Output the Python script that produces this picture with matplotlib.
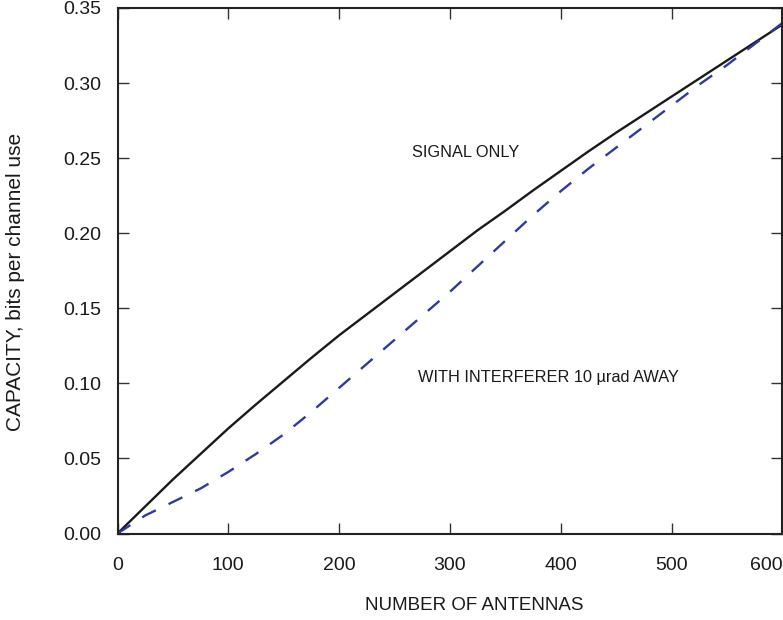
import matplotlib
matplotlib.use("Agg")
import matplotlib.pyplot as plt

plt.rcParams['font.family'] = ['Liberation Sans', 'DejaVu Sans']

antennas = [0, 25, 50, 75, 100, 125, 150, 175, 200, 225, 250, 275, 300, 325, 350,
            375, 400, 425, 450, 475, 500, 525, 550, 575, 600]
signal_only = [0.0, 0.018, 0.036, 0.053, 0.070, 0.086, 0.1015, 0.117, 0.132, 0.146,
               0.160, 0.174, 0.188, 0.202, 0.215, 0.2285, 0.2415, 0.2545, 0.267, 0.279,
               0.291, 0.303, 0.315, 0.327, 0.339]
with_interferer = [0.0, 0.012, 0.021, 0.030, 0.041, 0.053, 0.066, 0.081, 0.097, 0.113,
                   0.129, 0.145, 0.161, 0.178, 0.195, 0.212, 0.228, 0.243, 0.257, 0.271,
                   0.285, 0.299, 0.312, 0.326, 0.340]

xticks = [0, 100, 200, 300, 400, 500, 600]
yticks = [0.00, 0.05, 0.10, 0.15, 0.20, 0.25, 0.30, 0.35]

fig = plt.figure(figsize=(7.83, 6.2), dpi=100)
ax = fig.add_axes([117.5/783, 86.5/620, 1 - 117.5/783 - 0.0008, (533.5-8)/620])

ax.plot(antennas, signal_only, color='#1a1a1a', lw=1.7)
ax.plot(antennas, with_interferer, color='#2e3a9c', lw=1.7, dashes=(6.5, 6.0))

ax.set_xlim(0, 600)
ax.set_ylim(0, 0.35)
ax.set_xticks(xticks)
ax.set_yticks(yticks)
ax.set_xticklabels([str(t) for t in xticks])
ax.set_yticklabels([f"{t:.2f}" for t in yticks])
ax.tick_params(direction='in', length=8, width=1.0, color='#333333',
               top=True, right=True, labelsize=14, labelcolor='#1a1a1a')
ax.tick_params(axis='x', pad=17)
ax.tick_params(axis='y', pad=12)
xl = ax.get_xticklabels()
xl[-1].set_horizontalalignment('right')
for s in ax.spines.values():
    s.set_linewidth(1.5)
    s.set_color('#222222')

ax.text(314, 0.254, 'SIGNAL ONLY', fontsize=11.8, ha='center', va='center', color='#1a1a1a')
ax.text(389, 0.1037, 'WITH INTERFERER 10 \u00b5rad AWAY', fontsize=11.8, ha='center', va='center', color='#1a1a1a')

fig.text(474/783, 1 - 606/620, 'NUMBER OF ANTENNAS', fontsize=13.5, ha='center', va='center', color='#1a1a1a')
fig.text(16/783, 1 - 282/620, 'CAPACITY, bits per channel use', fontsize=15, ha='center', va='center',
         rotation=90, color='#1a1a1a')

fig.savefig('out.png', dpi=100)
